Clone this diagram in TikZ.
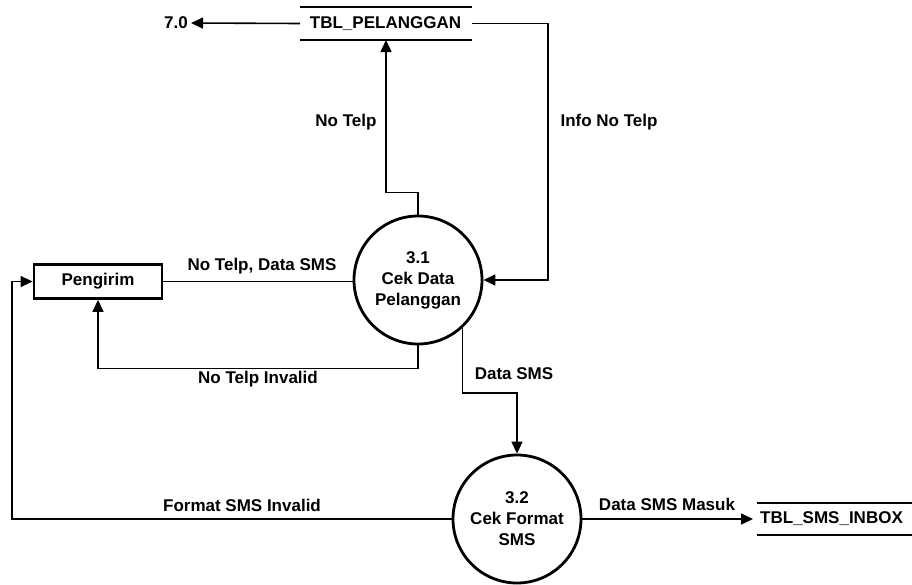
\documentclass[tikz,border=0pt]{standalone}
\usepackage{fontspec}
\setmainfont{Liberation Sans}
\usetikzlibrary{arrows.meta,calc}
\begin{document}
\begin{tikzpicture}[x=1pt,y=-1pt,
  font=\fontsize{17}{21}\selectfont\bfseries,
  flow/.style={line width=1.6pt,-{Triangle[length=12pt,width=11pt]}},
  plain/.style={line width=1.6pt},
  proc/.style={circle,draw,line width=2.8pt,minimum size=128pt,inner sep=0pt,align=center},
  entity/.style={draw,line width=2.8pt,minimum width=128pt,minimum height=34pt,inner sep=0pt},
  storeline/.style={line width=2pt},
  lbl/.style={inner sep=0pt}]
\useasboundingbox (0,0) rectangle (912,584);

% processes
\node[proc] (p31) at (418,280) {3.1\\Cek Data\\Pelanggan};
\node[proc] (p32) at (517,519) {3.2\\Cek Format\\SMS};

% external entity
\node[entity] (peng) at (98,281.5) {Pengirim};

% data stores
\node[lbl] (tp) at (385.5,23.5) {TBL\_PELANGGAN};
\draw[storeline] (300,7) -- (472,7);
\draw[storeline] (300,40) -- (472,40);
\coordinate (tpL) at (300,23.5);
\coordinate (tpR) at (472,23.5);
\coordinate (tpB) at (386,40);

\node[lbl,anchor=west] (inbox) at (760,519) {TBL\_SMS\_INBOX};
\draw[storeline] (757,503) -- (912,503);
\draw[storeline] (757,535) -- (912,535);
\coordinate (inboxL) at (753,519);

% other process reference
\node[lbl] (n70) at (176,23) {7.0};

% bend points
\coordinate (infoBend) at (548,23.5);
\coordinate (dsBend) at (517,393);
\coordinate (fmtBend) at (12,519);

% flows
\draw[flow] (tpL) -- ($(n70.east)+(3,0)$);
\draw[flow] (tpR) -- (infoBend) |- (p31.east);
\draw[flow] (p31.north) -- ++(0,-22) -| (tpB);
\draw[plain] (peng.east) -- (peng.east -| p31.west);
\draw[flow] (p31.south) -- ++(0,23) -| (peng.south);
\draw[flow] (p31.-47.4) |- (dsBend) -- (p32.north);
\draw[flow] (p32.west) -- (fmtBend) |- (peng.west);
\draw[flow] (p32.east) -- (inboxL);

% flow labels
\node[lbl] (l1) at (346,122) {No Telp};
\node[lbl] (l2) at (609,122) {Info No Telp};
\node[lbl] (l3) at (262,266) {No Telp, Data SMS};
\node[lbl] (l4) at (258,379) {No Telp Invalid};
\node[lbl] (l5) at (514,374) {Data SMS};
\node[lbl] (l6) at (242,505) {Format SMS Invalid};
\node[lbl] (l7) at (667,504) {Data SMS Masuk};
\end{tikzpicture}
\end{document}
